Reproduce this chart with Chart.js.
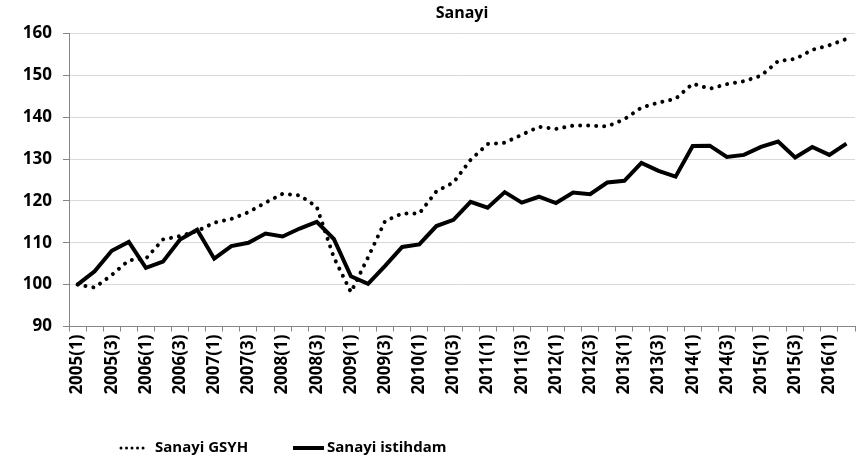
<!DOCTYPE html>
<html>
<head>
<meta charset="utf-8">
<script src="https://cdn.jsdelivr.net/npm/chart.js@4/dist/chart.umd.min.js"></script>
<style>
  html, body { margin: 0; padding: 0; background: #fff; }
  #wrap { width: 857px; height: 476px; position: relative; }
</style>
</head>
<body>
<div id="wrap"><canvas id="canvas"></canvas></div>
<script>
// quarters 2005(1) .. 2016(2)
const years = [2005, 2006, 2007, 2008, 2009, 2010, 2011, 2012, 2013, 2014, 2015, 2016];
const quarterLabels = [];
years.forEach(y => {
    for (let q = 1; q <= 4; q++) {
        if (y === 2016 && q > 2) break;
        quarterLabels.push(y + "(" + q + ")");
    }
});

const gsyhValues = [
    100.0, 99.3, 102.3, 105.8, 106.2, 110.8, 111.6, 112.8, 114.8, 115.7,
    117.3, 119.6, 121.7, 121.3, 118.6, 106.5, 98.2, 106.5, 115.2, 117.0,
    117.0, 122.3, 124.4, 129.8, 133.6, 133.9, 135.8, 137.7, 137.2, 138.0,
    138.0, 137.8, 139.5, 142.3, 143.5, 144.4, 148.0, 146.8, 147.9, 148.6,
    149.9, 153.4, 153.9, 156.1, 157.2, 158.7
];

const istihdamValues = [
    100.0, 103.2, 108.1, 110.2, 104.0, 105.5, 110.8, 113.1, 106.2, 109.2,
    110.0, 112.2, 111.5, 113.4, 115.0, 110.9, 102.0, 100.2, 104.5, 109.0,
    109.6, 114.0, 115.5, 119.8, 118.4, 122.1, 119.6, 121.0, 119.5, 122.0,
    121.6, 124.4, 124.8, 129.1, 127.2, 125.8, 133.1, 133.2, 130.5, 131.0,
    132.9, 134.2, 130.4, 132.9, 131.0, 133.7
];

const seriesNames = ["Sanayi GSYH", "Sanayi istihdam"];
const chartTitle = "Sanayi";

const fontFamily = "'Open Sans', 'Liberation Sans', sans-serif";

// title over the plot area and legend left of centre, drawn by hand like Excel does it
const excelDecor = {
    id: "excelDecor",
    afterDraw(chart) {
        const ctx = chart.ctx;
        const area = chart.chartArea;
        ctx.save();
        ctx.fillStyle = "#000";
        ctx.font = "bold 16px " + fontFamily;
        ctx.textBaseline = "middle";
        ctx.textAlign = "center";
        ctx.fillText(chartTitle, (area.left + area.right) / 2, 13);

        const y = 448;
        ctx.strokeStyle = "#000";
        ctx.lineCap = "round";
        // dotted sample
        ctx.lineWidth = 3;
        ctx.setLineDash([0.01, 5.5]);
        ctx.beginPath();
        ctx.moveTo(121, y);
        ctx.lineTo(148, y);
        ctx.stroke();
        // solid sample
        ctx.setLineDash([]);
        ctx.lineCap = "butt";
        ctx.lineWidth = 4;
        ctx.beginPath();
        ctx.moveTo(293, y);
        ctx.lineTo(324, y);
        ctx.stroke();

        ctx.font = "bold 15px " + fontFamily;
        ctx.textAlign = "left";
        ctx.fillText(seriesNames[0], 155, y);
        ctx.fillText(seriesNames[1], 327, y);
        ctx.restore();
    }
};

new Chart(document.getElementById("canvas"), {
    type: "line",
    data: {
        labels: quarterLabels,
        datasets: [
            {
                label: seriesNames[0],
                data: gsyhValues,
                borderColor: "#000",
                borderWidth: 4,
                borderDash: [0.01, 8],
                borderCapStyle: "round",
                pointRadius: 0,
                tension: 0,
                fill: false
            },
            {
                label: seriesNames[1],
                data: istihdamValues,
                borderColor: "#000",
                borderWidth: 4,
                pointRadius: 0,
                tension: 0,
                fill: false
            }
        ]
    },
    options: {
        responsive: true,
        maintainAspectRatio: false,
        animation: false,
        layout: { padding: { left: 0, right: 2, top: 33.5, bottom: 50 } },
        plugins: {
            legend: { display: false },
            tooltip: { enabled: false },
            title: { display: false }
        },
        scales: {
            x: {
                offset: true,
                grid: {
                    offset: true,
                    drawOnChartArea: false,
                    drawTicks: true,
                    tickLength: 5,
                    tickColor: "#868686"
                },
                border: { color: "#868686", width: 1 },
                ticks: {
                    autoSkip: false,
                    maxRotation: 90,
                    minRotation: 90,
                    padding: 3,
                    color: "#000",
                    font: { family: fontFamily, size: 17, weight: "bold" },
                    callback: function (value, index) {
                        return index % 2 === 0 ? this.getLabelForValue(value) : "";
                    }
                },
                afterFit: (scale) => {
                    scale.height = 99.5;
                    // no extra room for the rotated end labels
                    scale.paddingLeft = 0;
                    scale.paddingRight = 0;
                }
            },
            y: {
                min: 90,
                max: 160,
                ticks: {
                    stepSize: 10,
                    padding: 11,
                    color: "#000",
                    font: { family: fontFamily, size: 17, weight: "bold" }
                },
                grid: {
                    color: "#d9d9d9",
                    lineWidth: 1,
                    tickLength: 6,
                    tickColor: "#868686"
                },
                border: { color: "#868686", width: 1 },
                afterFit: (scale) => { scale.width = 69; }
            }
        }
    },
    plugins: [excelDecor]
});
</script>
</body>
</html>
